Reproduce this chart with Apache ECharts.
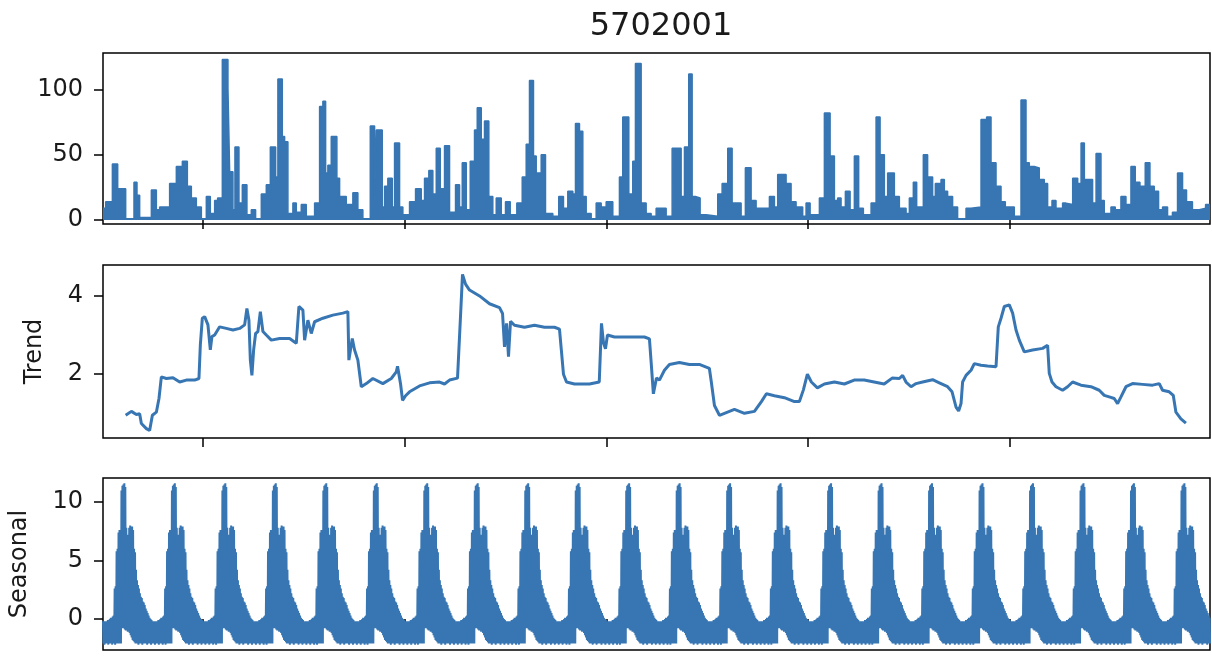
<!DOCTYPE html>
<html><head><meta charset="utf-8">
<script src="https://cdn.jsdelivr.net/npm/echarts@6/dist/echarts.min.js"></script>
<style>html,body{margin:0;padding:0;background:#fff}#c{width:1212px;height:657px}</style>
</head><body><div id="c"></div>
<script>
// ---- data (time in years from record start) ----
const chartTitle = '5702001';
const xMin = 0.03, xMax = 21.96;
const xTicks = [2, 6, 10, 14, 18];
const obsTicks = [0, 50, 100];
const trendTicks = [2, 4];
const seasonTicks = [0, 5, 10];

const obsT = [0.03,0.083,0.216,0.321,0.479,0.644,0.703,0.756,0.988,1.087,1.152,1.35,1.483,1.602,1.701,1.78,1.879,1.978,2.077,2.156,2.242,2.301,2.394,2.505,2.539,2.604,2.644,2.723,2.79,2.881,2.968,3.053,3.166,3.265,3.345,3.45,3.495,3.582,3.628,3.693,3.792,3.859,3.958,4.057,4.222,4.321,4.386,4.44,4.485,4.552,4.663,4.717,4.849,4.98,5.079,5.178,5.325,5.41,5.444,5.562,5.608,5.673,5.76,5.806,5.905,5.97,6.103,6.222,6.335,6.4,6.485,6.564,6.632,6.711,6.796,6.895,7.014,7.093,7.147,7.226,7.305,7.39,7.444,7.523,7.588,7.673,7.752,7.82,7.919,8.004,8.097,8.228,8.335,8.414,8.479,8.558,8.612,8.711,8.796,8.941,9.059,9.152,9.238,9.337,9.39,9.469,9.535,9.602,9.701,9.8,9.899,9.998,10.129,10.261,10.327,10.446,10.525,10.578,10.691,10.79,10.889,10.988,11.186,11.305,11.483,11.549,11.634,11.701,11.766,11.859,11.978,12.208,12.295,12.406,12.493,12.671,12.756,12.869,12.968,13.232,13.331,13.396,13.562,13.661,13.76,13.891,13.958,14.038,14.222,14.321,14.434,14.519,14.584,14.651,14.737,14.83,14.915,15.0,15.093,15.246,15.345,15.424,15.509,15.574,15.707,15.806,15.939,16.004,16.083,16.149,16.281,16.366,16.465,16.519,16.632,16.697,16.762,16.861,16.96,17.127,17.226,17.424,17.535,17.622,17.721,17.82,17.905,18.083,18.216,18.315,18.38,18.479,18.578,18.677,18.743,18.83,18.909,19.04,19.107,19.24,19.339,19.406,19.471,19.634,19.703,19.8,19.865,19.998,20.083,20.196,20.295,20.394,20.479,20.572,20.677,20.77,20.855,20.941,21.02,21.119,21.216,21.317,21.416,21.495,21.612,21.747,21.873,21.96];
const obsV = [9,14,43,24,1,29,19,2,23,8,10,28,41,45,26,17,10,1,18,5,15,17,123,101,37,8,56,13,27,4,8,1,20,27,56,33,108,64,60,5,13,6,12,3,13,87,91,36,42,64,32,18,12,21,8,1,72,18,69,10,26,32,10,59,10,4,14,24,15,32,38,20,55,24,57,6,27,10,44,8,45,69,86,62,76,18,4,17,4,14,4,13,33,58,107,49,36,50,5,3,18,9,22,20,74,68,18,5,1,13,10,14,3,33,79,20,45,120,13,5,3,9,3,55,18,56,112,18,17,4,3,20,28,55,13,3,40,15,9,18,10,35,28,14,10,3,13,4,17,82,49,15,17,10,22,8,49,9,4,13,79,50,18,36,18,9,5,17,29,10,50,33,18,28,31,22,18,10,1,9,10,77,79,44,26,14,10,3,92,44,41,40,31,28,10,15,9,13,12,32,28,59,31,13,51,15,5,10,8,18,12,41,29,26,44,26,22,8,10,3,6,36,23,14,8,9,12,12];

const trendT = [0.479,0.592,0.691,0.756,0.79,0.889,0.954,1.008,1.087,1.139,1.186,1.285,1.416,1.549,1.681,1.846,1.931,1.958,1.998,2.044,2.109,2.156,2.188,2.242,2.341,2.473,2.604,2.737,2.836,2.881,2.921,2.949,2.98,3.014,3.053,3.099,3.147,3.198,3.265,3.364,3.529,3.727,3.859,3.911,3.99,4.024,4.089,4.156,4.222,4.386,4.584,4.782,4.881,4.901,4.968,5.014,5.079,5.147,5.246,5.376,5.574,5.741,5.84,5.865,5.925,5.964,6.024,6.103,6.301,6.499,6.697,6.796,6.895,7.053,7.113,7.152,7.212,7.291,7.489,7.687,7.885,7.945,7.984,8.024,8.063,8.103,8.182,8.38,8.578,8.776,8.974,9.073,9.111,9.152,9.212,9.37,9.667,9.861,9.905,9.945,9.984,10.024,10.162,10.459,10.756,10.855,10.895,10.933,10.994,11.053,11.152,11.251,11.448,11.646,11.844,12.042,12.081,12.143,12.242,12.341,12.539,12.737,12.935,13.073,13.172,13.331,13.529,13.727,13.826,13.905,13.984,14.063,14.182,14.321,14.519,14.717,14.911,15.109,15.307,15.505,15.663,15.806,15.871,15.938,16.038,16.137,16.267,16.465,16.598,16.762,16.85,16.929,16.98,17.028,17.059,17.127,17.226,17.291,17.424,17.554,17.721,17.766,17.82,17.885,17.984,18.05,18.117,18.182,18.281,18.446,18.644,18.743,18.776,18.83,18.909,19.04,19.139,19.238,19.404,19.602,19.766,19.865,19.964,20.063,20.129,20.196,20.295,20.426,20.624,20.822,20.955,21.02,21.152,21.232,21.285,21.384,21.483];
const trendV = [0.95,1.05,0.97,0.99,0.74,0.61,0.56,0.95,1.03,1.38,1.93,1.89,1.91,1.8,1.85,1.85,1.89,2.74,3.43,3.47,3.26,2.62,2.96,3.0,3.21,3.17,3.13,3.17,3.26,3.68,3.38,2.36,1.97,2.62,3.04,3.09,3.6,3.09,3.0,2.87,2.91,2.91,2.79,3.73,3.64,2.87,3.38,3.04,3.34,3.43,3.51,3.56,3.6,2.36,2.91,2.62,2.36,1.68,1.76,1.89,1.76,1.89,2.06,2.2,1.75,1.33,1.45,1.55,1.7,1.78,1.8,1.75,1.85,1.9,3.5,4.55,4.3,4.15,4.0,3.8,3.7,3.55,2.7,3.3,2.45,3.35,3.25,3.2,3.25,3.2,3.2,3.15,2.6,2.0,1.8,1.75,1.75,1.8,3.3,2.8,2.65,3.0,2.95,2.95,2.95,2.9,2.2,1.5,1.9,1.85,2.1,2.25,2.3,2.25,2.25,2.15,1.8,1.2,0.95,1.0,1.1,1.0,1.05,1.3,1.5,1.45,1.4,1.3,1.3,1.6,2.0,1.8,1.65,1.75,1.8,1.75,1.85,1.85,1.8,1.75,1.9,1.89,1.97,1.8,1.68,1.76,1.8,1.86,1.78,1.68,1.55,1.16,1.06,1.25,1.8,1.97,2.1,2.27,2.23,2.21,2.19,3.21,3.43,3.73,3.77,3.56,3.13,2.87,2.57,2.62,2.66,2.74,2.02,1.8,1.68,1.59,1.68,1.8,1.72,1.68,1.59,1.46,1.42,1.38,1.25,1.42,1.68,1.76,1.74,1.72,1.76,1.59,1.55,1.46,1.03,0.86,0.75];

// one seasonal cycle (52 weekly steps): upper and lower envelope of the daily seasonal component
const seasonStart = 0.03;
const seasonYears = 22;
const seasonUpper = [-0.2,-0.3,-0.2,-0.3,-0.2,-0.1,-0.2,0.0,0.1,0.0,0.2,0.3,2.6,2.8,5.8,6.0,7.4,7.6,7.5,11.0,11.4,11.5,11.6,11.3,7.8,7.0,7.2,7.8,8.0,7.9,7.9,7.6,6.0,5.7,4.2,3.3,2.9,2.6,2.2,1.9,1.8,1.5,1.4,1.2,0.9,0.7,0.5,0.3,0.1,0.0,-0.1,-0.2];
const seasonLower = [-2.1,-2.2,-2.1,-2.0,-2.1,-2.2,-2.1,-2.1,-2.0,-2.2,-2.1,-2.1,-2.2,-2.1,-2.0,-2.1,-2.1,-2.0,-2.1,-0.8,-0.7,-0.8,-0.9,-1.0,-1.0,-1.1,-1.0,-1.2,-1.4,-1.6,-1.8,-1.9,-2.0,-2.1,-2.0,-2.1,-2.2,-2.1,-2.0,-2.1,-2.2,-2.1,-2.0,-2.1,-2.1,-2.2,-2.0,-2.1,-2.1,-2.2,-2.1,-2.0];

// ---- build series data ----
const obsData = obsT.map((t, i) => [t, obsV[i]]);
const trendData = trendT.map((t, i) => [t, trendV[i]]);
const seasonData = [];
const nW = seasonUpper.length;
for (let k = 0; k < seasonYears; k++) {
  for (let w = 0; w < nW; w++) {
    const t = seasonStart + k + w / nW;
    if (t > xMax) break;
    seasonData.push([t, seasonUpper[w]]);
    seasonData.push([t + 0.5 / nW, seasonLower[w]]);
  }
}

const BLUE = '#3776b3';
const FONT = 'DejaVu Sans';
const TXT = '#1a1a1a';

function xAx(gi) {
  return {
    type: 'value', gridIndex: gi, min: xMin, max: xMax,
    axisLine: { show: false },
    axisTick: { show: true, customValues: xTicks, length: 9, lineStyle: { color: '#000', width: 1.5 } },
    axisLabel: { show: false },
    splitLine: { show: false }
  };
}
function yAx(gi, min, max, ticks, name, gap) {
  return {
    type: 'value', gridIndex: gi, min: min, max: max,
    name: name, nameLocation: 'middle', nameRotate: 90, nameGap: gap,
    nameTextStyle: { fontFamily: FONT, fontSize: 24, color: TXT },
    axisLine: { show: false },
    axisTick: { show: true, customValues: ticks, length: 9, lineStyle: { color: '#000', width: 1.5 } },
    axisLabel: { customValues: ticks, fontFamily: FONT, fontSize: 24, color: TXT, margin: 20 },
    splitLine: { show: false }
  };
}
const gridBase = { left: 103, right: 2, show: true, borderColor: '#000', borderWidth: 1.5, backgroundColor: 'transparent' };

const chart = echarts.init(document.getElementById('c'), null, { renderer: 'canvas' });
chart.setOption({
  animation: false,
  title: { text: chartTitle, left: 656, top: 6, textAlign: 'center',
    textStyle: { fontFamily: FONT, fontSize: 32, fontWeight: 'normal', color: TXT } },
  grid: [
    Object.assign({ top: 53, height: 171 }, gridBase),
    Object.assign({ top: 265, height: 173 }, gridBase),
    Object.assign({ top: 478, height: 172 }, gridBase)
  ],
  xAxis: [xAx(0), xAx(1), xAx(2)],
  yAxis: [
    yAx(0, -3, 128, obsTicks, '', 60),
    yAx(1, 0.37, 4.79, trendTicks, 'Trend', 56),
    yAx(2, -2.66, 12.06, seasonTicks, 'Seasonal', 71)
  ],
  series: [
    { type: 'line', xAxisIndex: 0, yAxisIndex: 0, data: obsData, step: 'end', showSymbol: false,
      lineStyle: { color: BLUE, width: 1.5 }, areaStyle: { color: BLUE, opacity: 1 } },
    { type: 'line', xAxisIndex: 1, yAxisIndex: 1, data: trendData, showSymbol: false,
      lineStyle: { color: BLUE, width: 3 } },
    { type: 'line', xAxisIndex: 2, yAxisIndex: 2, data: seasonData, showSymbol: false,
      lineStyle: { color: BLUE, width: 2 } }
  ]
});
</script></body></html>
